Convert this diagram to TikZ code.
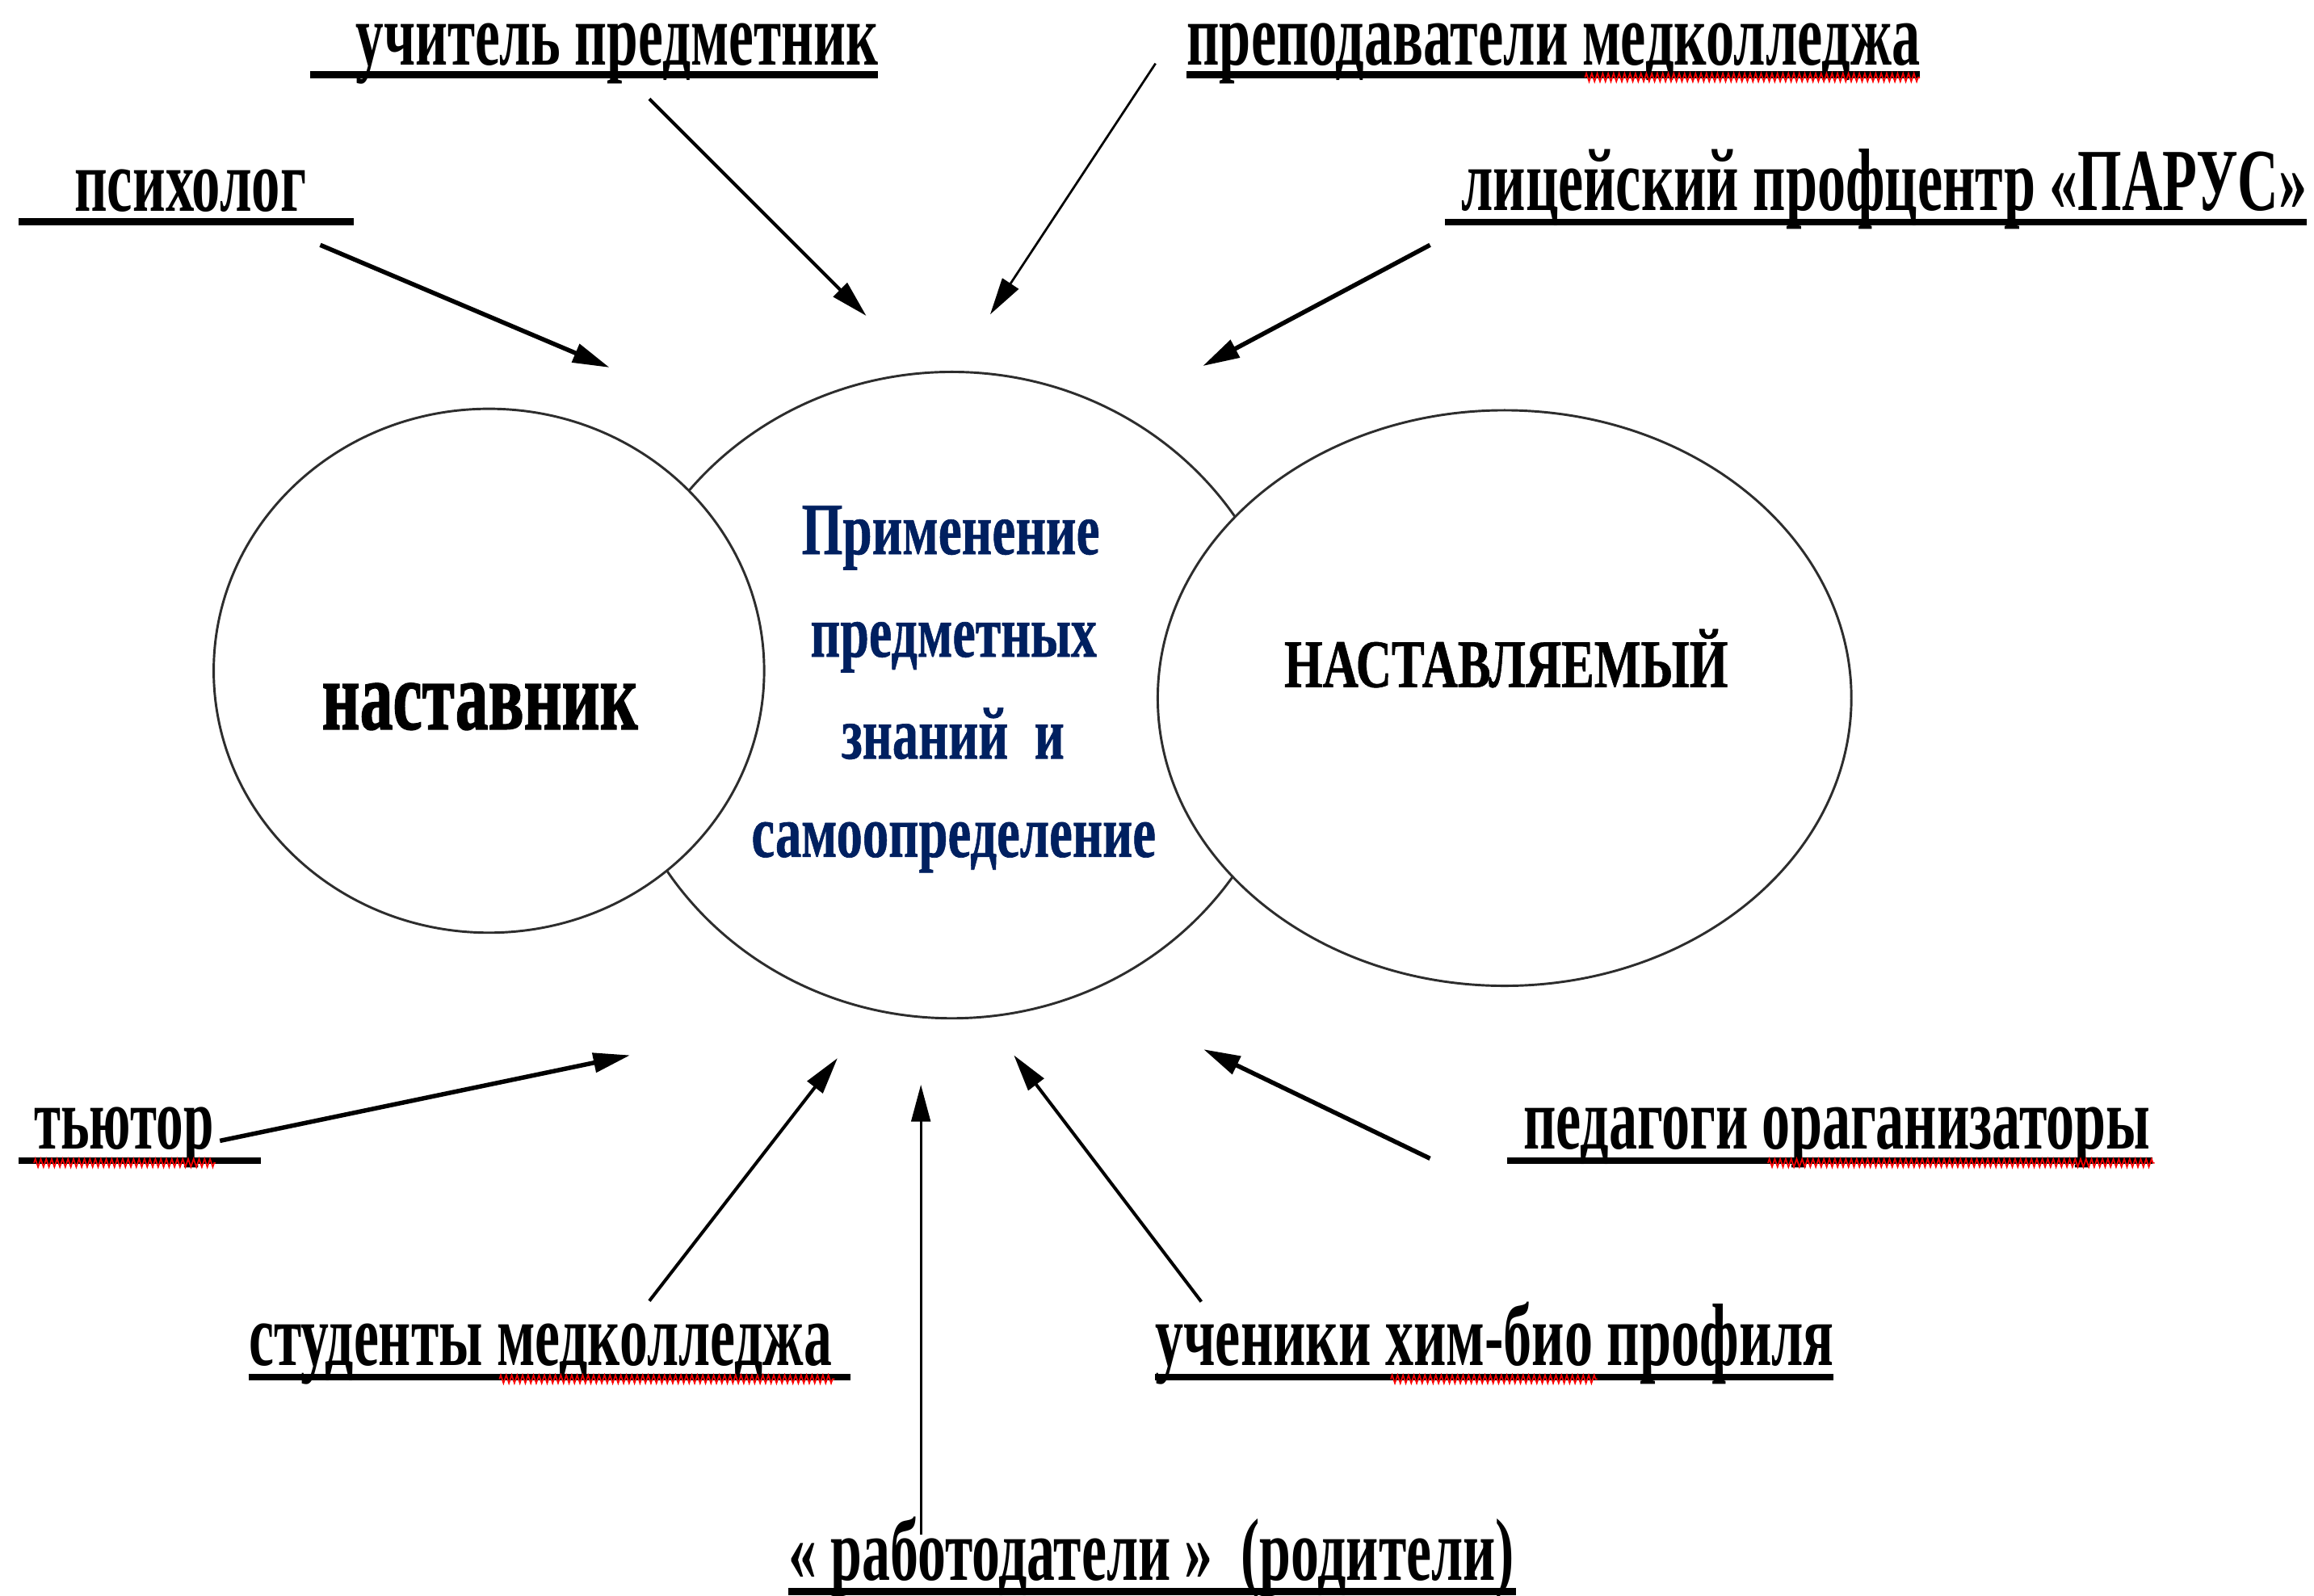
\documentclass[tikz,border=0pt]{standalone}
\usepackage{fontspec}
\setmainfont{Liberation Serif}
\newfontfamily\heavyfont[FakeBold=1.5]{Liberation Serif Bold}
\newfontfamily\semiheavy[FakeBold=0.8]{Liberation Serif Bold}
\usetikzlibrary{arrows.meta,shapes.geometric,decorations.pathmorphing}
\definecolor{navy}{RGB}{0,32,96}
\definecolor{ovalline}{RGB}{45,45,45}
\newcommand{\fitw}[2]{\resizebox{#1pt}{\height}{#2}}
\begin{document}
\begin{tikzpicture}[x=1pt,y=-1pt,
  lbl/.style={anchor=base west, inner sep=0pt, font=\fontsize{60}{72}\selectfont\bfseries},
  ctr/.style={anchor=base west, inner sep=0pt, text=navy, font=\fontsize{50}{60}\selectfont\semiheavy},
  oval/.style={ellipse, draw=ovalline, line width=1.6pt, fill=white, inner sep=0pt},
  uline/.style={line width=4.6pt},
  squig/.style={red, line width=0.9pt, decorate, decoration={zigzag, segment length=3.7pt, amplitude=2.8pt}},
  arr/.style={-{Triangle[length=25pt,width=13pt]}},
  thk/.style={arr, line width=3pt},
  mdm/.style={arr, line width=2.2pt},
  thn/.style={arr, line width=1.5pt}
]
\useasboundingbox (0,0) rectangle (1568,1081);
\fill[white] (0,0) rectangle (1568,1081);

% ellipses
\node[oval, minimum width=460pt, minimum height=438pt] (mid) at (645,471) {};
\node[oval, minimum width=373pt, minimum height=355pt] (left) at (331.3,454.5) {};
\node[oval, minimum width=470pt, minimum height=390pt] (right) at (1019.5,473) {};

% texts in ellipses
\node[ctr] (t1) at (543,375.5) {\fitw{202}{Применение}};
\node[ctr] (t2) at (549,445) {\fitw{194}{предметных}};
\node[ctr] (t3) at (570,514) {\fitw{151}{знаний\ \ и}};
\node[ctr] (t4) at (509,580.6) {\fitw{274}{самоопределение}};
\node[anchor=base west, inner sep=0pt, font=\fontsize{66}{70}\selectfont\heavyfont] (nast) at (218,494) {\fitw{214}{наставник}};
\node[anchor=base west, inner sep=0pt, font=\fontsize{46}{50}\selectfont\semiheavy] (nastv) at (870,465.5) {\fitw{300.6}{НАСТАВЛЯЕМЫЙ}};

% labels
\node[lbl] (psy) at (50.3,143) {\fitw{157}{психолог}};
\node[lbl] (uch) at (240.8,44) {\fitw{354}{учитель предметник}};
\node[lbl] (prep) at (804,44) {\fitw{497}{преподаватели медколледжа}};
\node[lbl] (lic) at (990,142.3) {\fitw{573}{лицейский профцентр «ПАРУС»}};
\node[lbl] (tut) at (23,778.5) {\fitw{121.5}{тьютор}};
\node[lbl] (ped) at (1032,778.5) {\fitw{425}{педагоги ораганизаторы}};
\node[lbl] (stud) at (168.4,925) {\fitw{395}{студенты медколледжа}};
\node[lbl] (uchen) at (782.6,925) {\fitw{460}{ученики хим-био профиля}};
\node[lbl] (rab) at (534,1071) {\fitw{492}{«\ работодатели\ »\ \ (родители)}};

% underlines
\draw[uline] (12.6,150.3) -- (239.6,150.3);
\draw[uline] (210.3,50.6) -- (594.7,50.6);
\draw[uline] (804,50.6) -- (1301,50.6);
\draw[uline] (979,150.5) -- (1563,150.5);
\draw[uline] (12.5,786.3) -- (176.6,786.3);
\draw[uline] (1021,786.3) -- (1458.6,786.3);
\draw[uline] (168.4,933) -- (576.4,933);
\draw[uline] (782.8,933) -- (1242.5,933);
\draw[uline] (534,1078.5) -- (1027.5,1078.5);

% spell-check squiggles
\draw[squig] (1074,52.5) -- (1301,52.5);
\draw[squig] (23,788) -- (146,788);
\draw[squig] (1198,788) -- (1460,788);
\draw[squig] (338.4,934.5) -- (565.5,934.5);
\draw[squig] (942.4,934.5) -- (1082.3,934.5);

% arrow ends
\coordinate (a1s) at (217,166);   \coordinate (a1e) at (413,249);
\coordinate (a2s) at (440,67);    \coordinate (a2e) at (587,214);
\coordinate (a3s) at (783,43);    \coordinate (a3e) at (671,213);
\coordinate (a4s) at (969,166);   \coordinate (a4e) at (815,248);
\coordinate (a5s) at (149,773);   \coordinate (a5e) at (427,715);
\coordinate (a6s) at (440,881.5); \coordinate (a6e) at (567.5,717);
\coordinate (a7s) at (624,1040);  \coordinate (a7e) at (624,735);
\coordinate (a8s) at (814,882);   \coordinate (a8e) at (687,715);
\coordinate (a9s) at (969,785);   \coordinate (a9e) at (815.5,711);

\draw[thk] (a1s) -- (a1e);
\draw[mdm] (a2s) -- (a2e);
\draw[thn] (a3s) -- (a3e);
\draw[thk] (a4s) -- (a4e);
\draw[thk] (a5s) -- (a5e);
\draw[mdm] (a6s) -- (a6e);
\draw[thn] (a7s) -- (a7e);
\draw[mdm] (a8s) -- (a8e);
\draw[thk] (a9s) -- (a9e);
\end{tikzpicture}
\end{document}
